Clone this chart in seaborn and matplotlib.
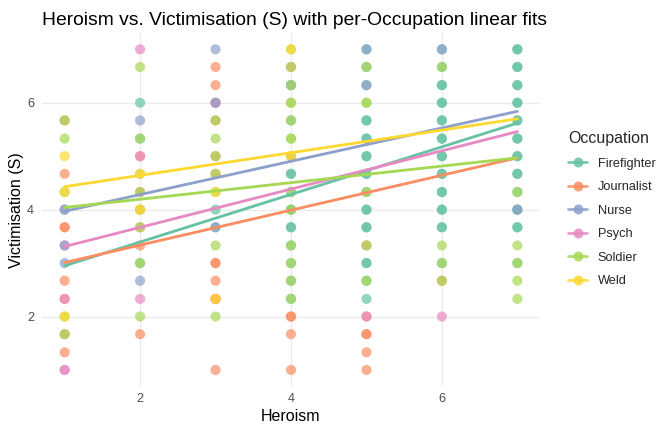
import matplotlib
matplotlib.use("Agg")
import matplotlib.pyplot as plt
from matplotlib.lines import Line2D
import seaborn as sns
import pandas as pd

occupations = ["Firefighter", "Journalist", "Nurse", "Psych", "Soldier", "Weld"]
colors = ["#66c2a5", "#fc8d62", "#8da0cb", "#e78ac3", "#a6d854", "#ffd92f"]

# Points: heroism level -> victimisation values
firefighter_pts = {
    2: [6, 5.33, 3],
    3: [4, 3.67],
    4: [6.33, 5.67, 4.67, 4.67, 4.33, 4, 4, 3.67, 3.67, 3.33, 3, 2.67, 2.33],
    5: [7, 6.67, 6.33, 5.67, 5.67, 5.33, 5.33, 5, 5, 4.67, 4.67, 4.33, 4, 4, 3.67, 3.67, 3, 3, 2.67, 2.33],
    6: [7, 6.67, 6.33, 6.33, 6, 6, 5.67, 5.67, 5.33, 5.33, 5, 5, 4.67, 4.67, 4.33, 4.33, 4, 4, 3.67, 3.67, 3],
    7: [7, 7, 6.67, 6.67, 6.33, 6.33, 6, 6, 5.67, 5.67, 5.33, 5.33, 5, 5, 4.67, 4.67, 4.33, 4, 4, 3.67, 3.67, 3],
}
journalist_pts = {
    1: [5.67, 4.67, 3.67, 3.67, 2.67, 2.33, 1.67, 1.33],
    2: [5, 4.33, 4, 3.67, 3.33, 1.67],
    3: [6.67, 6.33, 6, 5.67, 5, 4.67, 3, 3, 2.67, 2.33, 2.33, 1],
    4: [6.67, 5, 2, 2, 1.67, 1],
    5: [3.33, 2, 1.67, 1.67, 1.33, 1],
    6: [2.67],
}
nurse_pts = {
    1: [4, 4, 3.33, 3],
    2: [5.67, 2.67],
    3: [7, 6, 3.67],
    4: [6.33],
    5: [7, 6.33],
    6: [7],
    7: [4],
}
psych_pts = {
    1: [3.33, 2.33, 1, 1],
    2: [7, 5, 2.33],
    3: [6],
    5: [2],
    6: [2],
}
soldier_pts = {
    1: [5.67, 5.33, 4.33, 2, 1.67],
    2: [6.67, 5.33, 4.67, 4.33, 4, 3.67, 3, 2],
    3: [5.67, 5.33, 5, 4.67, 4.33, 3.33, 2],
    4: [7, 6.67, 6.33, 6, 6, 5.67, 5.33, 5.33, 5, 4.33, 4, 3.33, 3, 2.67, 2.33],
    5: [6.67, 6, 6, 4.33, 3.33, 2.67],
    6: [6.67, 3.33, 3, 2.67],
    7: [4.33, 3.33, 3, 2.67, 2.33],
}
weld_pts = {
    1: [5, 4.33, 2],
    2: [4.67, 4],
    3: [4.33, 2.33],
    4: [7, 5],
}

# Linear fit lines: value at heroism 1 and at heroism 7
fit_x = [1, 7]
fit_start = [2.95, 3.01, 3.97, 3.31, 4.04, 4.43]
fit_end = [5.62, 4.97, 5.84, 5.46, 4.97, 5.70]

all_pts = [firefighter_pts, journalist_pts, psych_pts, nurse_pts, soldier_pts, weld_pts]
occ_order = ["Firefighter", "Journalist", "Psych", "Nurse", "Soldier", "Weld"]
rows = []
for occ, pts in zip(occ_order, all_pts):
    for h, vals in pts.items():
        for v in vals:
            rows.append({"Heroism": h, "Victimisation (S)": v, "Occupation": occ})
df = pd.DataFrame(rows)

fit_rows = []
for occ, a, b in zip(occupations, fit_start, fit_end):
    fit_rows.append({"Heroism": fit_x[0], "Victimisation (S)": a, "Occupation": occ})
    fit_rows.append({"Heroism": fit_x[1], "Victimisation (S)": b, "Occupation": occ})
fit_df = pd.DataFrame(fit_rows)

sns.set_theme(style="white")
plt.rcParams["font.family"] = ["Liberation Sans", "DejaVu Sans"]

palette = dict(zip(occupations, colors))
fig = plt.figure(figsize=(7, 4.5), dpi=96)
ax = fig.add_axes([42 / 672, (432 - 386) / 432, (540 - 42) / 672, (386 - 33.3) / 432])

sns.scatterplot(data=df, x="Heroism", y="Victimisation (S)", hue="Occupation",
                palette=palette, alpha=0.7, s=58, edgecolor="none", linewidth=0,
                legend=False, ax=ax, zorder=2)
sns.lineplot(data=fit_df, x="Heroism", y="Victimisation (S)", hue="Occupation",
             palette=palette, linewidth=2.1, legend=False, ax=ax, zorder=3)

ax.set_xlim(0.7, 7.3)
ax.set_ylim(0.7, 7.3)
ax.set_xticks([2, 4, 6])
ax.set_yticks([2, 4, 6])
ax.grid(True, color="#ebebeb", linewidth=1.05)
ax.set_axisbelow(True)
for sp in ax.spines.values():
    sp.set_visible(False)
ax.tick_params(axis="x", length=0, labelsize=9.6, colors="#4d4d4d", pad=5)
ax.tick_params(axis="y", length=0, labelsize=9.6, colors="#4d4d4d", pad=6)
ax.set_xlabel("Heroism", fontsize=12, color="black", labelpad=3)
ax.set_ylabel("Victimisation (S)", fontsize=12, color="black", labelpad=2)

fig.text(42 / 672, 1 - 20.5 / 432, "Heroism vs. Victimisation (S) with per-Occupation linear fits",
         fontsize=14.4, color="black", ha="left", va="center")

handles = [Line2D([0], [0], color=c, lw=2.1, marker="o", markersize=7.5,
                  markerfacecolor=c, markeredgewidth=0, alpha=0.85) for c in colors]
leg = fig.legend(handles, occupations, title="Occupation", loc="upper left",
                 bbox_to_anchor=(563 / 672, 1 - 126 / 432), frameon=False,
                 fontsize=9.6, title_fontsize=12, handlelength=1.5,
                 handletextpad=0.8, labelspacing=0.9, borderaxespad=0)
leg._legend_box.align = "left"

fig.savefig("out.png", dpi=96)
